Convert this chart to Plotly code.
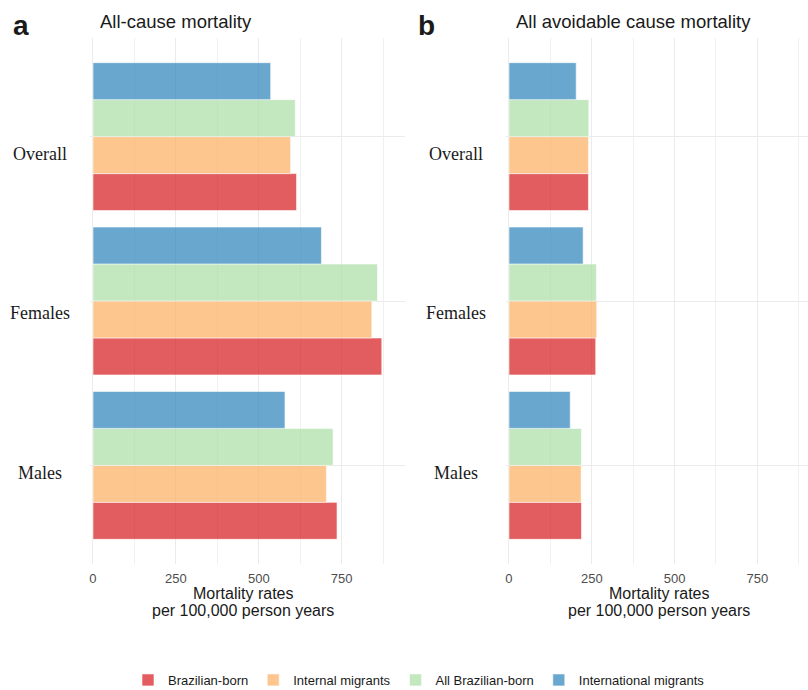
import plotly.graph_objects as go

# ---------------- data ----------------
groups = ["Males", "Females", "Overall"]          # bottom -> top
series = ["Brazilian-born<br>non-migrants", "Internal migrants",
          "All Brazilian-born", "International migrants"]
colors = ["#D7191C", "#FDAE61", "#ABDDA4", "#2B83BA"]

# All-cause mortality (per 100,000 person years), order: Males, Females, Overall
all_cause = {
    "Brazilian-born<br>non-migrants": [736, 871, 614],
    "Internal migrants":              [704, 841, 596],
    "All Brazilian-born":             [724, 858, 610],
    "International migrants":         [579, 689, 536],
}
# All avoidable cause mortality
avoidable = {
    "Brazilian-born<br>non-migrants": [219, 262, 240],
    "Internal migrants":              [218, 265, 240],
    "All Brazilian-born":             [219, 264, 241],
    "International migrants":         [185, 224, 203],
}
x_ticks = [0, 250, 500, 750]
x_minor = [125, 375, 625, 875]

# ---------------- figure ----------------
W, H = 808, 690
fig = go.Figure()

for name, col in zip(series, colors):
    fig.add_trace(go.Bar(
        y=groups, x=all_cause[name], orientation="h", name=name,
        marker=dict(color=col, line=dict(color="white", width=0.6)),
        opacity=0.7, legendgroup=name, showlegend=True,
        xaxis="x", yaxis="y"))
for name, col in zip(series, colors):
    fig.add_trace(go.Bar(
        y=groups, x=avoidable[name], orientation="h", name=name,
        marker=dict(color=col, line=dict(color="white", width=0.6)),
        opacity=0.7, legendgroup=name, showlegend=False,
        xaxis="x2", yaxis="y2"))

def px_x(p):
    return p / W

def px_y(p):
    return 1 - p / H

ydom = [px_y(564), px_y(38)]
grid = "#EBEBEB"

xaxis_common = dict(
    tickvals=x_ticks, ticktext=[str(v) for v in x_ticks],
    showgrid=True, gridcolor=grid, gridwidth=1, zeroline=False,
    showline=False, ticks="outside", ticklen=2, tickcolor="rgba(0,0,0,0)",
    tickfont=dict(family="Liberation Sans, Arial", size=13, color="#4D4D4D"),
    minor=dict(tickvals=x_minor, showgrid=True,
               gridcolor="#F0F0F0", gridwidth=1),
    fixedrange=True,
)
yaxis_common = dict(
    categoryorder="array", categoryarray=groups, range=[-0.6, 2.6],
    showgrid=True, gridcolor=grid, gridwidth=1, zeroline=False,
    showline=False, showticklabels=False,
    domain=ydom, fixedrange=True,
)

fig.update_layout(
    width=W, height=H,
    margin=dict(l=0, r=0, t=0, b=0, autoexpand=False),
    paper_bgcolor="white", plot_bgcolor="white",
    barmode="group", bargap=0.1, bargroupgap=0,
    xaxis=dict(domain=[px_x(90), px_x(405)], range=[-9, 941], anchor="y",
               **xaxis_common),
    yaxis=dict(anchor="x", **yaxis_common),
    xaxis2=dict(domain=[px_x(506), 1.0], range=[-9, 903], anchor="y2",
                **xaxis_common),
    yaxis2=dict(anchor="x2", **yaxis_common),
    showlegend=True,
    legend=dict(orientation="h", x=px_x(128), xanchor="left",
                y=px_y(665), yanchor="top", traceorder="normal",
                valign="top", bgcolor="rgba(0,0,0,0)",
                font=dict(family="Liberation Sans, Arial", size=13,
                          color="#1A1A1A")),
    font=dict(family="Liberation Sans, Arial", color="#1A1A1A"),
)

annots = []
# category labels (centred, sitting slightly below each group's centre line)
label_shift = {"Overall": -17, "Females": -12, "Males": -8}
for yref, xc in [("y", 39.5), ("y2", 455.5)]:
    for g in groups:
        annots.append(dict(text=g, x=px_x(xc), y=g, xref="paper", yref=yref,
                           xanchor="center", yanchor="middle",
                           yshift=label_shift[g], showarrow=False,
                           font=dict(family="Liberation Serif, Times New Roman, serif",
                                     size=18, color="#1A1A1A")))
# panel letters
for letter, xp in [("a", 11), ("b", 416)]:
    annots.append(dict(text="<b>%s</b>" % letter, x=px_x(xp), y=px_y(25.5),
                       xref="paper", yref="paper", xanchor="left",
                       yanchor="middle", showarrow=False,
                       font=dict(family="Liberation Sans, Arial", size=28,
                                 color="#1A1A1A")))
# panel titles
for title, xp in [("All-cause mortality", 98),
                  ("All avoidable cause mortality", 514)]:
    annots.append(dict(text=title, x=px_x(xp), y=px_y(21),
                       xref="paper", yref="paper", xanchor="left",
                       yanchor="middle", showarrow=False,
                       font=dict(family="Liberation Sans, Arial", size=18.5,
                                 color="#1A1A1A")))
# axis titles
for xc in [243, 659]:
    for line, yc in [("Mortality rates", 593),
                     ("per 100,000 person years", 610)]:
        annots.append(dict(text=line, x=px_x(xc), y=px_y(yc),
                           xref="paper", yref="paper", xanchor="center",
                           yanchor="middle", showarrow=False,
                           font=dict(family="Liberation Sans, Arial", size=16,
                                     color="#1A1A1A")))
fig.update_layout(annotations=annots)

fig.write_html("out.html", config={"displayModeBar": False},
               post_script="document.body.style.margin='0';"
                           "document.body.style.overflow='hidden';")
